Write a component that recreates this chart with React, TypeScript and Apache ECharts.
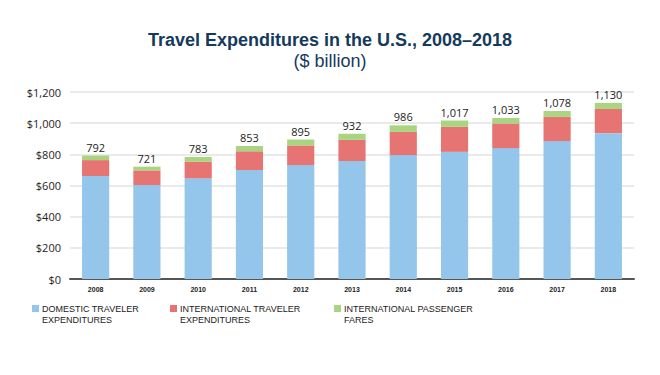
import React, { useEffect, useRef } from "react";
import * as echarts from "echarts";

const years = ["2008", "2009", "2010", "2011", "2012", "2013", "2014", "2015", "2016", "2017", "2018"];
const domestic = [661, 603, 646, 699, 731, 757, 795, 816, 840, 885, 936];
const intlTraveler = [102, 94, 106, 120, 126, 136, 149, 160, 158, 155, 155];
const intlFares = [29, 24, 31, 34, 38, 39, 42, 41, 35, 38, 39];
const totals = [792, 721, 783, 853, 895, 932, 986, 1017, 1033, 1078, 1130];
const seriesNames = [
  "DOMESTIC TRAVELER EXPENDITURES",
  "INTERNATIONAL TRAVELER EXPENDITURES",
  "INTERNATIONAL PASSENGER FARES",
];
const legendLines = [
  ["DOMESTIC TRAVELER", "EXPENDITURES"],
  ["INTERNATIONAL TRAVELER", "EXPENDITURES"],
  ["INTERNATIONAL PASSENGER", "FARES"],
];
const colors = ["#94c5eb", "#e57473", "#aad580"];

export default function App() {
  const ref = useRef<HTMLDivElement>(null);
  useEffect(() => {
    document.body.style.margin = "0";
    const chart = echarts.init(ref.current!, null, { renderer: "svg" });
    const font = "'Open Sans', sans-serif";
    const lib = "'Liberation Sans', Arial, sans-serif";
    const legendX = [32, 170, 334];
    const graphic: any[] = [];
    legendLines.forEach((lines, i) => {
      graphic.push({
        type: "rect",
        left: legendX[i],
        top: 305,
        shape: { width: 7, height: 7 },
        style: { fill: colors[i] },
      });
      lines.forEach((t, j) => {
        graphic.push({
          type: "text",
          x: legendX[i] + 10,
          y: 309 + j * 11,
          style: {
            text: t,
            font: `9px ${lib}`,
            fill: "#222",
            verticalAlign: "middle",
            align: "left",
          },
        });
      });
    });
    chart.setOption({
      animation: false,
      title: [
        {
          text: "Travel Expenditures in the U.S., 2008–2018",
          left: "center",
          top: 26,
          textStyle: { fontFamily: lib, fontSize: 18, fontWeight: "bold", color: "#163a5c" },
        },
        {
          text: "($ billion)",
          left: "center",
          top: 47,
          textStyle: { fontFamily: lib, fontSize: 18, fontWeight: "normal", color: "#163a5c" },
        },
      ],
      grid: { left: 70, right: 26, top: 92, bottom: 96 },
      xAxis: {
        type: "category",
        data: years,
        axisLine: { lineStyle: { color: "#555", width: 2 } },
        axisTick: { show: false },
        axisLabel: {
          fontFamily: "'Liberation Sans Narrow', 'Liberation Sans', sans-serif",
          fontSize: 7,
          fontWeight: "bold",
          color: "#222",
          margin: 7,
        },
      },
      yAxis: {
        type: "value",
        min: 0,
        max: 1200,
        interval: 200,
        axisLine: { show: false },
        axisTick: { show: false },
        splitLine: { lineStyle: { color: "#e3e3e3", width: 1.5 } },
        axisLabel: {
          fontFamily: font,
          fontSize: 11,
          fontWeight: 500,
          color: "#1e1e1e",
          margin: 9,
          formatter: (v: number) => "$" + v.toLocaleString("en-US"),
        },
      },
      series: [domestic, intlTraveler, intlFares].map((d, i) => ({
        name: seriesNames[i],
        type: "bar",
        stack: "total",
        data: d,
        barWidth: "53%",
        itemStyle: { color: colors[i] },
        label:
          i === 2
            ? {
                show: true,
                position: "top",
                distance: 3,
                fontFamily: font,
                fontSize: 11,
                color: "#222",
                formatter: (p: any) => totals[p.dataIndex].toLocaleString("en-US"),
              }
            : { show: false },
      })),
      graphic,
    });
    return () => chart.dispose();
  }, []);
  return <div ref={ref} style={{ width: 660, height: 375 }} />;
}
